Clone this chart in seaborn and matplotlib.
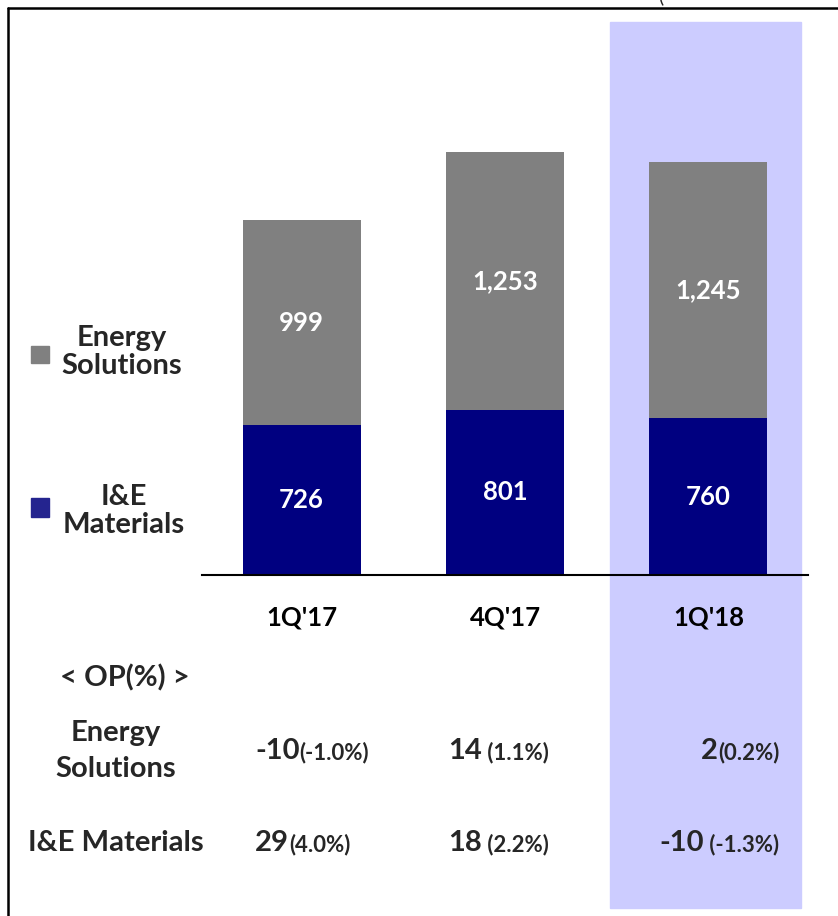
import matplotlib
matplotlib.use("Agg")
import matplotlib.pyplot as plt
from matplotlib.patches import Rectangle
from matplotlib.lines import Line2D
import seaborn as sns

quarters = ["1Q'17", "4Q'17", "1Q'18"]
ie_sales = [726, 801, 760]
energy_sales = [999, 1253, 1245]
energy_op = [-10, 14, 2]
energy_pct = [-1.0, 1.1, 0.2]
ie_op = [29, 18, -10]
ie_pct = [4.0, 2.2, -1.3]

GRAY = "#808080"
NAVY = "#000080"
BAND = "#CCCCFF"
FONT = "Lato"

W, H = 838, 916
sns.set_theme(style="white")
plt.rcParams["font.family"] = [FONT, "DejaVu Sans"]

fig = plt.figure(figsize=(W / 100, H / 100), dpi=100)


def fx(x):
    return x / W


def fy(y):
    return 1 - y / H


# highlight band for the latest quarter
fig.patches.append(Rectangle((fx(610), fy(908)), 191 / W, 886 / H,
                             transform=fig.transFigure, color=BAND, zorder=-5))
# frame lines
fig.lines.append(Line2D([fx(8), fx(8)], [fy(8), 0], transform=fig.transFigure,
                        color="black", lw=1.8))
fig.lines.append(Line2D([fx(8), 1], [fy(8), fy(8)], transform=fig.transFigure,
                        color="black", lw=1.8))
fig.text(fx(661), fy(-4), "(", fontsize=14, ha="center", va="center")

ax = fig.add_axes([fx(202), fy(575), 606 / W, (575 - 22) / H])
ax.patch.set_alpha(0)

totals = [a + b for a, b in zip(ie_sales, energy_sales)]
sns.barplot(x=quarters, y=totals, color=GRAY, width=0.58, saturation=1,
            linewidth=0, edgecolor="none", ax=ax)
sns.barplot(x=quarters, y=ie_sales, color=NAVY, width=0.58, saturation=1,
            linewidth=0, edgecolor="none", ax=ax)

for i, (ie, en) in enumerate(zip(ie_sales, energy_sales)):
    ax.text(i, ie / 2, f"{ie:,}", color="white", fontsize=18.5,
            fontweight="bold", ha="center", va="center")
    ax.text(i, ie + en / 2, f"{en:,}", color="white", fontsize=18.5,
            fontweight="bold", ha="center", va="center")

ax.set_xlim(-0.49, 2.49)
ax.set_ylim(0, (575 - 22) / 0.206)
ax.set_yticks([])
for s in ["left", "right", "top"]:
    ax.spines[s].set_visible(False)
ax.spines["bottom"].set_color("black")
ax.spines["bottom"].set_linewidth(1.5)
ax.tick_params(axis="x", length=0, pad=22)
for lab in ax.get_xticklabels():
    lab.set_fontsize(18.5)
    lab.set_fontweight("bold")
    lab.set_color("black")

# legend
fig.patches.append(Rectangle((fx(31), fy(363)), 18 / W, 17 / H,
                             transform=fig.transFigure, color=GRAY))
fig.patches.append(Rectangle((fx(31), fy(517)), 18 / W, 19 / H,
                             transform=fig.transFigure, color="#24248F"))
lkw = dict(fontsize=21, fontweight="bold", ha="center", va="center")
fig.text(fx(122), fy(352), "Energy\nSolutions", linespacing=1.12, **lkw)
fig.text(fx(124), fy(511), "I&E\nMaterials", linespacing=1.12, **lkw)

# OP table
fig.text(fx(125), fy(678), "< OP(%) >", **lkw)
fig.text(fx(116), fy(751), "Energy\nSolutions", linespacing=1.45, **lkw)
fig.text(fx(116), fy(843), "I&E Materials", **lkw)

row_starts = [[255, 448, 701], [255, 448, 659]]
seps = [["", " ", ""], ["", " ", " "]]
for r, (ops, pcts, yy) in enumerate([(energy_op, energy_pct, 751),
                                     (ie_op, ie_pct, 843)]):
    for c in range(3):
        big = fig.text(fx(row_starts[r][c]), fy(yy), f"{ops[c]}", fontsize=21,
                       fontweight="bold", ha="left", va="center")
        ax.annotate(f"{seps[r][c]}({pcts[c]:.1f}%)", xy=(1, 0.5),
                    xycoords=big, xytext=(0, -1), textcoords="offset points",
                    fontsize=16, fontweight="bold", ha="left", va="center",
                    annotation_clip=False)

fig.savefig("out.png", dpi=100)
